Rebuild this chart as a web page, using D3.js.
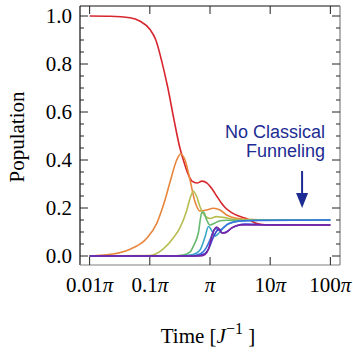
<!DOCTYPE html>
<html>
<meta charset="utf-8">
<script src="https://cdn.jsdelivr.net/npm/d3@7"></script>
<style>
  body { margin: 0; background: #fff; }
  text { font-family: "Liberation Serif", "Times New Roman", serif; }
</style>
<body>
<div id="plot_area"></div>
</body>
<script>

// x values are log10(t / pi), y values are populations
var red = [[-2,1.0],[-1.66,0.999],[-1.33,0.993],[-1.16,0.978],[-1.0,0.945],[-0.9,0.9],[-0.8,0.81],
  [-0.7,0.70],[-0.6,0.57],[-0.5,0.45],[-0.43,0.39],[-0.365,0.342],[-0.3,0.312],[-0.216,0.304],
  [-0.133,0.312],[-0.05,0.304],[0.033,0.28],[0.11,0.25],[0.183,0.223],[0.25,0.202],[0.36,0.181],
  [0.465,0.168],[0.58,0.158],[0.7,0.144],[0.78,0.135],[0.91,0.13],[1.2,0.129],[2,0.129]];
var orange = [[-2,0],[-1.61,0.008],[-1.33,0.028],[-1.05,0.074],[-0.885,0.136],[-0.748,0.233],
  [-0.664,0.308],[-0.553,0.40],[-0.487,0.425],[-0.415,0.40],[-0.332,0.317],[-0.249,0.226],
  [-0.166,0.1875],[-0.055,0.192],[0.055,0.199],[0.166,0.192],[0.277,0.171],[0.44,0.157],
  [0.61,0.153],[1.0,0.15],[2,0.15]];
var olive = [[-2,0],[-1.0,0.002],[-0.776,0.03],[-0.61,0.075],[-0.5,0.117],[-0.387,0.19],
  [-0.332,0.24],[-0.277,0.27],[-0.22,0.247],[-0.166,0.205],[-0.083,0.167],[0,0.156],
  [0.11,0.164],[0.22,0.161],[0.387,0.153],[0.66,0.15],[2,0.15]];
var green = [[-2,0],[-0.66,0],[-0.45,0.004],[-0.33,0.017],[-0.266,0.046],[-0.194,0.096],
  [-0.138,0.18],[-0.108,0.183],[-0.055,0.15],[0,0.129],[0.083,0.1375],[0.166,0.147],
  [0.277,0.149],[0.5,0.148],[0.8,0.15],[2,0.15]];
var cyan = [[-2,0],[-0.5,0],[-0.28,0.006],[-0.166,0.025],[-0.083,0.079],[-0.025,0.123],
  [0.033,0.104],[0.083,0.083],[0.15,0.096],[0.232,0.121],[0.33,0.1375],[0.5,0.146],
  [0.83,0.149],[2,0.15]];
var blue = [[-2,0],[-0.33,0],[-0.166,0.008],[-0.066,0.033],[0,0.067],[0.05,0.1],[0.1,0.115],
  [0.15,0.106],[0.2,0.1125],[0.3,0.133],[0.5,0.146],[0.83,0.148],[2,0.15]];
var indigo = [[-2,0],[-0.25,0],[-0.1,0.008],[-0.017,0.033],[0.05,0.075],[0.1,0.1],[0.15,0.1125],
  [0.2,0.096],[0.266,0.1],[0.365,0.117],[0.58,0.133],[1.0,0.13],[2,0.129]];
var purple = [[-2,0],[-0.166,0],[-0.083,0.006],[-0.025,0.029],[0.028,0.079],[0.066,0.108],
  [0.11,0.121],[0.15,0.1125],[0.2,0.096],[0.25,0.096],[0.36,0.117],[0.5,0.129],[2,0.129]];

var series = [red, orange, olive, green, cyan, blue, indigo, purple];
var colors = ["#d7262e", "#e8873c", "#b8bd52", "#66b96e", "#3aa5c8", "#3874de", "#3b3fd4", "#7a23a3"];

var xTicks = [-2, -1, 0, 1, 2];
var xTickLabels = ["0.01", "0.1", "", "10", "100"];
var yTicks = [0, 0.2, 0.4, 0.6, 0.8, 1.0];
var yMinor = d3.range(0, 21).map(function(i) { return i * 0.05; });

var margin = {top: 6, right: 13, bottom: 89, left: 80},
    width = 353 - margin.left - margin.right,
    height = 354 - margin.top - margin.bottom;

var svg = d3.select("#plot_area")
  .append("svg")
    .attr("width", 353)
    .attr("height", 354)
  .append("g")
    .attr("transform", "translate(" + margin.left + "," + margin.top + ")");

var x = d3.scaleLinear()
  .domain([-2.16, 2.16])
  .range([0, width]);
var y = d3.scaleLinear()
  .domain([-0.0375, 1.0417])
  .range([height, 0]);

// curves
var line = d3.line()
  .x(function(d) { return x(d[0]); })
  .y(function(d) { return y(d[1]); })
  .curve(d3.curveMonotoneX);

svg.append("g")
  .selectAll("path")
  .data(series)
  .enter()
  .append("path")
    .attr("d", line)
    .attr("fill", "none")
    .attr("stroke", function(d, i) { return colors[i]; })
    .attr("stroke-width", 1.6);

// frame
svg.append("line").attr("x1", 0).attr("x2", 0).attr("y1", 0).attr("y2", height)
  .attr("stroke", "#111").attr("stroke-width", 1.2);
svg.append("line").attr("x1", 0).attr("x2", width).attr("y1", 0).attr("y2", 0)
  .attr("stroke", "#111").attr("stroke-width", 1.2);
svg.append("line").attr("x1", 0).attr("x2", width).attr("y1", height).attr("y2", height)
  .attr("stroke", "#808080").attr("stroke-width", 1.2);
svg.append("line").attr("x1", width).attr("x2", width).attr("y1", 0).attr("y2", height)
  .attr("stroke", "#808080").attr("stroke-width", 1.2);

// y ticks, inward on both sides
var ticks = svg.append("g").attr("stroke", "#222").attr("stroke-width", 1);
yMinor.forEach(function(v) {
  var major = Math.abs(v * 5 - Math.round(v * 5)) < 1e-6;
  var len = major ? 8 : 4;
  ticks.append("line").attr("x1", 0).attr("x2", len).attr("y1", y(v)).attr("y2", y(v));
  ticks.append("line").attr("x1", width).attr("x2", width - len).attr("y1", y(v)).attr("y2", y(v));
});
xTicks.forEach(function(u) {
  ticks.append("line").attr("x1", x(u)).attr("x2", x(u)).attr("y1", height).attr("y2", height - 8);
  ticks.append("line").attr("x1", x(u)).attr("x2", x(u)).attr("y1", 0).attr("y2", 8);
});

// y tick labels
svg.append("g")
  .selectAll("text")
  .data(yTicks)
  .enter()
  .append("text")
    .attr("x", -8)
    .attr("y", function(d) { return y(d); })
    .attr("dy", "0.34em")
    .attr("text-anchor", "end")
    .style("font-size", "21px")
    .text(function(d) { return d.toFixed(1); });

// x tick labels
var xl = svg.append("g")
  .selectAll("text")
  .data(xTicks)
  .enter()
  .append("text")
    .attr("x", function(d) { return x(d); })
    .attr("y", 292 - margin.top)
    .attr("text-anchor", "middle")
    .style("font-size", "21px");
xl.append("tspan").text(function(d, i) { return xTickLabels[i]; });
xl.append("tspan").style("font-style", "italic").text("\u03c0");

// axis titles
svg.append("text")
  .attr("transform", "translate(" + (24 - margin.left) + "," + (137 - margin.top) + ") rotate(-90)")
  .attr("text-anchor", "middle")
  .style("font-size", "21px")
  .text("Population");

var xt = svg.append("text")
  .attr("x", 208 - margin.left)
  .attr("y", 343 - margin.top)
  .attr("text-anchor", "middle")
  .style("font-size", "21px");
xt.append("tspan").text("Time [");
xt.append("tspan").style("font-style", "italic").text("J");
xt.append("tspan").attr("dy", -9).style("font-size", "16px").text("\u22121");
xt.append("tspan").attr("dy", 9).text(" ]");

// annotation
var ann = svg.append("g")
  .style("fill", "#1c2c92")
  .style("font-size", "18px");
ann.append("text").attr("x", 325 - margin.left).attr("y", 138 - margin.top)
  .attr("text-anchor", "end").style("font-family", "'Liberation Sans', Arial, sans-serif")
  .text("No Classical");
ann.append("text").attr("x", 325 - margin.left).attr("y", 157 - margin.top)
  .attr("text-anchor", "end").style("font-family", "'Liberation Sans', Arial, sans-serif")
  .text("Funneling");

var ax = x(1.53);
svg.append("line")
  .attr("x1", ax).attr("x2", ax)
  .attr("y1", 171 - margin.top).attr("y2", 196 - margin.top)
  .attr("stroke", "#1c2c92").attr("stroke-width", 2);
svg.append("path")
  .attr("d", "M" + (ax - 6) + "," + (193 - margin.top) + "L" + (ax + 6) + "," + (193 - margin.top) +
        "L" + ax + "," + (208 - margin.top) + "Z")
  .attr("fill", "#1c2c92");

</script>
</html>
